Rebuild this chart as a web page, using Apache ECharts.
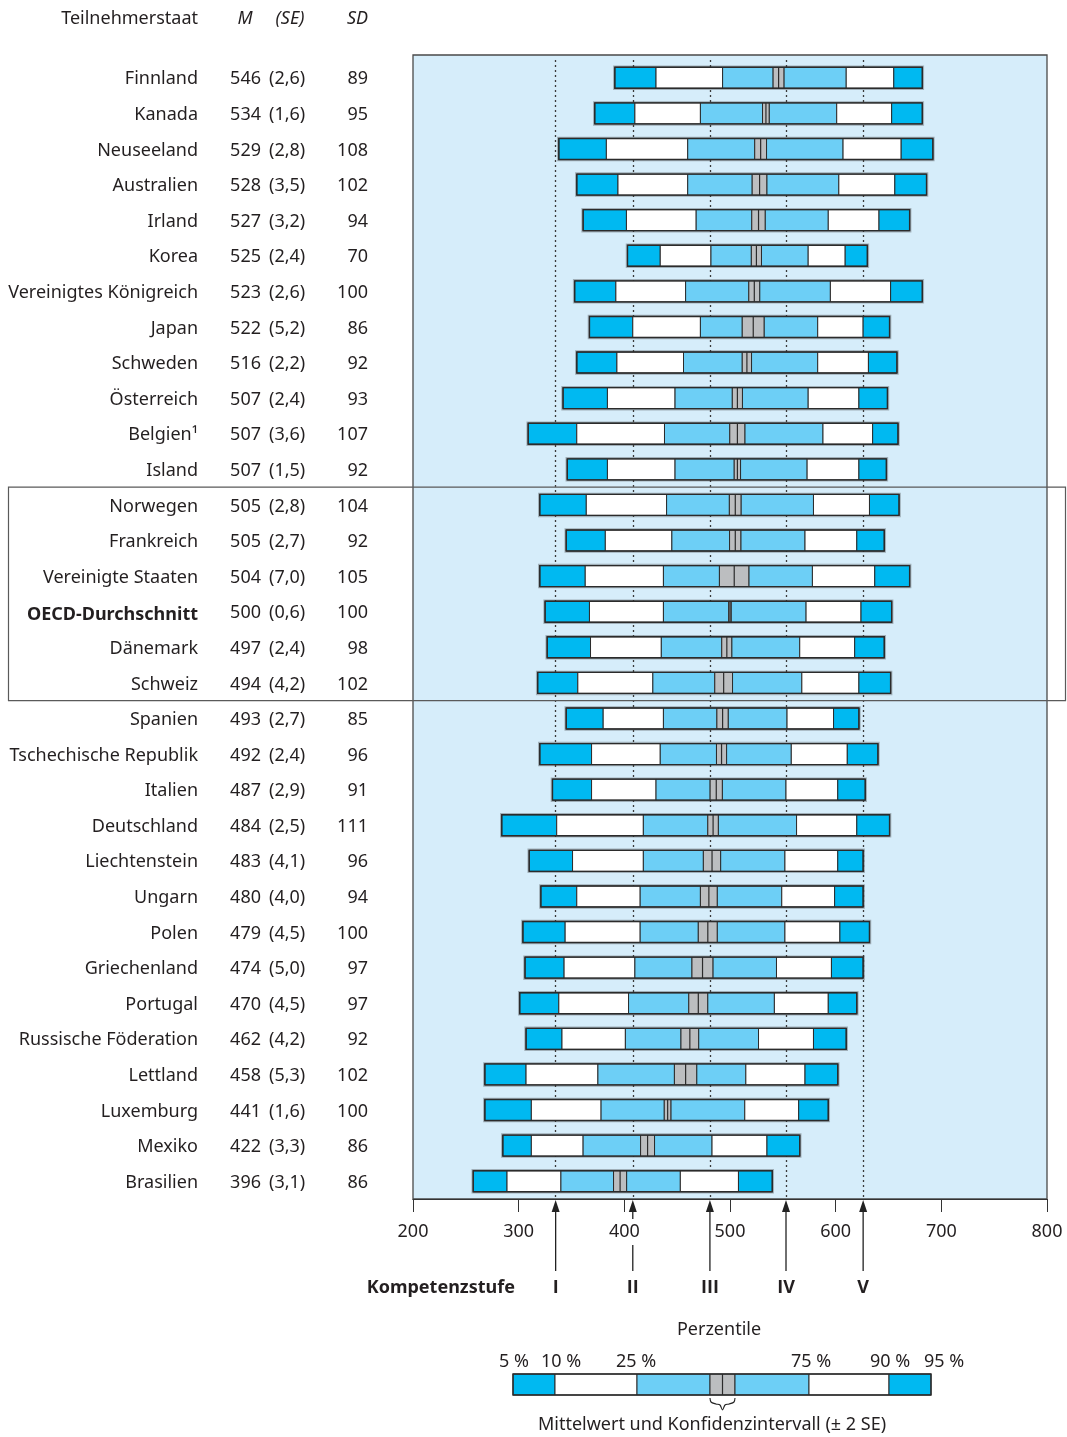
<!DOCTYPE html>
<html><head><meta charset="utf-8">
<script src="https://cdn.jsdelivr.net/npm/echarts@6/dist/echarts.min.js"></script>
<style>html,body{margin:0;padding:0;background:#fff}#c{width:1067px;height:1437px}</style>
</head><body><div id="c"></div>
<script>
// ---------- DATA ----------
const countries = ['Finnland','Kanada','Neuseeland','Australien','Irland','Korea','Vereinigtes Königreich','Japan','Schweden','Österreich','Belgien¹','Island','Norwegen','Frankreich','Vereinigte Staaten','OECD-Durchschnitt','Dänemark','Schweiz','Spanien','Tschechische Republik','Italien','Deutschland','Liechtenstein','Ungarn','Polen','Griechenland','Portugal','Russische Föderation','Lettland','Luxemburg','Mexiko','Brasilien'];
const means = [546,534,529,528,527,525,523,522,516,507,507,507,505,505,504,500,497,494,493,492,487,484,483,480,479,474,470,462,458,441,422,396];
const ses   = [2.6,1.6,2.8,3.5,3.2,2.4,2.6,5.2,2.2,2.4,3.6,1.5,2.8,2.7,7.0,0.6,2.4,4.2,2.7,2.4,2.9,2.5,4.1,4.0,4.5,5.0,4.5,4.2,5.3,1.6,3.3,3.1];
const sds   = [89,95,108,102,94,70,100,86,92,93,107,92,104,92,105,100,98,102,85,96,91,111,96,94,100,97,97,92,102,100,86,86];
const p5  = [391,372,338,355,361,403,353,367,355,342,309,346,320,345,320,325,327,318,345,320,332,284,310,321,304,306,301,307,268,268,285,257];
const p10 = [430,410,383,394,402,434,392,408,393,384,355,384,364,382,363,367,368,356,380,369,369,336,351,355,344,343,338,341,307,312,312,289];
const p25 = [493,472,460,460,468,482,458,472,456,448,438,448,440,445,437,437,435,427,437,434,430,418,418,415,415,410,404,401,375,378,361,340];
const p75 = [610,601,607,603,593,574,595,583,583,574,588,573,579,571,578,572,566,568,554,558,553,563,552,549,552,544,542,527,515,514,483,453];
const p90 = [655,653,662,656,641,609,652,626,631,622,635,622,632,620,637,624,618,622,598,611,602,620,602,599,604,596,593,579,571,565,535,508];
const p95 = [682,682,692,686,670,630,682,651,658,649,659,648,660,646,670,653,646,652,622,640,628,651,626,626,632,626,620,610,602,593,566,540];
const levels = [335, 408, 481, 553, 626];
const levelNames = ['I','II','III','IV','V'];
const legendLabels = ['5 %','10 %','25 %','75 %','90 %','95 %'];
const highlightRows = [12, 17]; // Norwegen .. Schweiz boxed
const boldRow = 15;

// ---------- STYLE ----------
const DARK = '#00B9F1', LIGHT = '#6DCFF6', GRAY = '#BCBEC0', BG = '#D6EDFA', TXT = '#231F20';
const FONT = 'Noto Sans';
const FS = 18;
const fmtSE = v => v.toFixed(1).replace('.', ',');

const data = countries.map((c, i) => [i, p5[i], p10[i], p25[i], means[i], ses[i], p75[i], p90[i], p95[i]]);

const chart = echarts.init(document.getElementById('c'), null, {renderer: 'canvas'});

function renderItem(params, api) {
  const i = api.value(0);
  const m = api.value(4), se = api.value(5);
  const vals = [api.value(1), api.value(2), api.value(3), m - 2 * se, m + 2 * se, api.value(6), api.value(7), api.value(8)];
  const yc = api.coord([vals[0], i])[1];
  const h = 21;
  const xs = vals.map(v => api.coord([v, i])[0]);
  const fills = [DARK, '#FFFFFF', LIGHT, GRAY, LIGHT, '#FFFFFF', DARK];
  const ch = [];
  ch.push({type: 'rect', shape: {x: xs[0] - 1, y: yc - h / 2 - 1, width: xs[7] - xs[0] + 2, height: h + 2},
    style: {fill: 'none', stroke: 'rgba(60,60,60,0.35)', lineWidth: 1.5}});
  for (let k = 0; k < 7; k++) {
    ch.push({type: 'rect', shape: {x: xs[k], y: yc - h / 2, width: Math.max(xs[k + 1] - xs[k], 0.5), height: h},
      style: {fill: fills[k], stroke: '#2B2B2B', lineWidth: 1}});
  }
  const xm = api.coord([m, i])[0];
  ch.push({type: 'line', shape: {x1: xm, y1: yc - h / 2, x2: xm, y2: yc + h / 2},
    style: {stroke: '#2B2B2B', lineWidth: 1.2}});
  ch.push({type: 'rect', shape: {x: xs[0], y: yc - h / 2, width: xs[7] - xs[0], height: h},
    style: {fill: 'none', stroke: '#2B2B2B', lineWidth: 1.4}});
  return {type: 'group', children: ch};
}

const GRID_LEFT = 413;
function tableAxis(values, rightEdgeOrLeft, align, fmt) {
  return {
    type: 'category', inverse: true, data: values, position: 'left',
    axisLine: {show: false}, axisTick: {show: false}, splitLine: {show: false},
    axisLabel: {
      interval: 0, margin: GRID_LEFT - rightEdgeOrLeft, align: align,
      fontFamily: FONT, fontSize: FS, color: TXT, padding: [3, 0, 0, 0],
      formatter: fmt,
      rich: {b: {fontFamily: FONT, fontSize: FS, color: TXT, fontWeight: 'bold', padding: [3, 0, 0, 0]}}
    }
  };
}

chart.setOption({
  animation: false,
  backgroundColor: '#FFFFFF',
  textStyle: {fontFamily: FONT, color: TXT},
  grid: {left: GRID_LEFT, right: 20, top: 60, bottom: 238, show: false},
  xAxis: {
    type: 'value', min: 200, max: 800, interval: 100,
    axisLine: {show: true, lineStyle: {color: '#333', width: 1.2}},
    axisTick: {show: true, length: 13, lineStyle: {color: '#333', width: 1}},
    axisLabel: {fontFamily: FONT, fontSize: FS, color: TXT, margin: 24},
    splitLine: {show: false}
  },
  yAxis: [
    tableAxis(countries, 198, 'right', (v, i) => i === boldRow ? '{b|' + v + '}' : v),
    tableAxis(means.map(String), 261, 'right', v => v),
    tableAxis(ses.map(v => '(' + fmtSE(v) + ')'), 269, 'left', v => v),
    tableAxis(sds.map(String), 368, 'right', v => v)
  ],
  series: [{
    type: 'custom', z: 3,
    renderItem: renderItem,
    data: data,
    encode: {x: [1, 2, 3, 6, 7, 8], y: 0},
    markLine: {
      z: 2, silent: true, symbol: ['none', 'none'], label: {show: false},
      lineStyle: {color: '#3A3A3A', type: [2, 3], width: 1.3},
      data: levels.map(v => ({xAxis: v}))
    }
  }]
});

// ---------- decorations computed from the axes ----------
const px = v => chart.convertToPixel({xAxisIndex: 0}, v);
const py = i => chart.convertToPixel({yAxisIndex: 0}, i);
const x0 = px(200), x1 = px(800);
const band = py(1) - py(0);
const gTop = 55, gBot = py(countries.length - 1) + band / 2;
const g = [];
g.push({type: 'rect', z: 0, shape: {x: x0, y: gTop, width: x1 - x0, height: gBot - gTop},
  style: {fill: BG, stroke: '#4A4A4A', lineWidth: 1.3}});
// highlighted box
const bt = py(highlightRows[0]) - band / 2, bb = py(highlightRows[1]) + band / 2;
g.push({type: 'rect', z: 4, shape: {x: 8.5, y: bt, width: 1057, height: bb - bt},
  style: {fill: 'none', stroke: '#5A5A5A', lineWidth: 1.2}});
// header
const hdr = (txt, x, align, italic) => ({type: 'text', z: 5, x: x, y: 19,
  style: {text: txt, fontFamily: FONT, fontSize: FS, fill: TXT, align: align, verticalAlign: 'middle', fontStyle: italic ? 'italic' : 'normal'}});
g.push(hdr('Teilnehmerstaat', 198, 'right', false));
g.push(hdr('M', 245, 'center', true));
g.push(hdr('(SE)', 290, 'center', true));
g.push(hdr('SD', 368, 'right', true));
// competence arrows
const aTop = gBot + 1, aBot = 1271;
levels.forEach((v, k) => {
  const x = px(v);
  if (k === 1) {
    g.push({type: 'line', z: 5, shape: {x1: x, y1: aTop + 6, x2: x, y2: 1219}, style: {stroke: '#222', lineWidth: 1.3}});
    g.push({type: 'line', z: 5, shape: {x1: x, y1: 1245, x2: x, y2: aBot}, style: {stroke: '#222', lineWidth: 1.3}});
  } else {
    g.push({type: 'line', z: 5, shape: {x1: x, y1: aTop + 6, x2: x, y2: aBot}, style: {stroke: '#222', lineWidth: 1.3}});
  }
  g.push({type: 'polygon', z: 5, shape: {points: [[x, aTop], [x - 4, aTop + 12], [x + 4, aTop + 12]]}, style: {fill: '#222'}});
  g.push({type: 'text', z: 5, x: x, y: 1288, style: {text: levelNames[k], fontFamily: 'Open Sans', fontSize: FS, fontWeight: 'bold', fill: TXT, align: 'center', verticalAlign: 'middle'}});
});
g.push({type: 'text', z: 5, x: 515, y: 1288, style: {text: 'Kompetenzstufe', fontFamily: FONT, fontSize: FS, fontWeight: 'bold', fill: TXT, align: 'right', verticalAlign: 'middle'}});
// legend key
g.push({type: 'text', z: 5, x: 719, y: 1330, style: {text: 'Perzentile', fontFamily: FONT, fontSize: FS, fill: TXT, align: 'center', verticalAlign: 'middle'}});
const lx = [513, 555, 637, 710, 735, 809, 889, 931];
const lf = [DARK, '#FFFFFF', LIGHT, GRAY, LIGHT, '#FFFFFF', DARK];
for (let k = 0; k < 7; k++) {
  g.push({type: 'rect', z: 5, shape: {x: lx[k], y: 1374, width: lx[k + 1] - lx[k], height: 21}, style: {fill: lf[k], stroke: '#2B2B2B', lineWidth: 1}});
}
g.push({type: 'line', z: 5, shape: {x1: 722.5, y1: 1374, x2: 722.5, y2: 1395}, style: {stroke: '#2B2B2B', lineWidth: 1.2}});
g.push({type: 'rect', z: 5, shape: {x: 513, y: 1374, width: 418, height: 21}, style: {fill: 'none', stroke: '#2B2B2B', lineWidth: 1.4}});
const llx = [[499, 'left'], [561, 'center'], [636, 'center'], [811, 'center'], [890, 'center'], [944, 'center']];
legendLabels.forEach((t, k) => g.push({type: 'text', z: 5, x: llx[k][0], y: 1362,
  style: {text: t, fontFamily: FONT, fontSize: FS, fill: TXT, align: llx[k][1], verticalAlign: 'middle'}}));
g.push({type: 'polyline', z: 5, shape: {points: [[710, 1398], [711, 1402], [716, 1404], [720, 1405], [722.5, 1410], [725, 1405], [729, 1404], [734, 1402], [735, 1398]], smooth: 0.3},
  style: {stroke: '#222', lineWidth: 1.1, fill: 'none'}});
g.push({type: 'text', z: 5, x: 712, y: 1425, style: {text: 'Mittelwert und Konfidenzintervall (± 2 SE)', fontFamily: FONT, fontSize: FS, fill: TXT, align: 'center', verticalAlign: 'middle'}});

chart.setOption({graphic: g});
</script>
</body></html>
